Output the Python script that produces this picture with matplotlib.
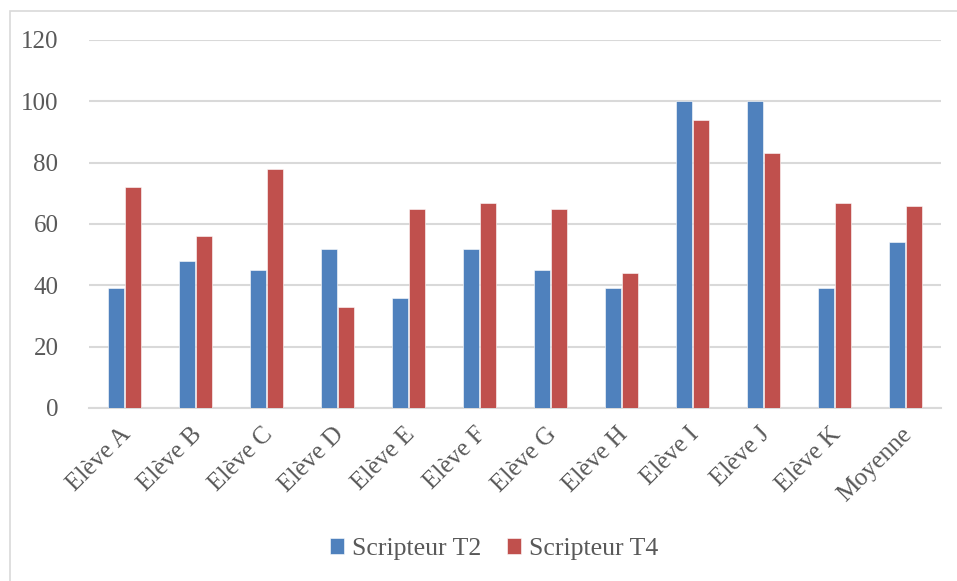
import matplotlib.pyplot as plt
from matplotlib.patches import Rectangle
from matplotlib.transforms import ScaledTranslation
import numpy as np

eleves = ['Elève A', 'Elève B', 'Elève C', 'Elève D', 'Elève E', 'Elève F',
          'Elève G', 'Elève H', 'Elève I', 'Elève J', 'Elève K', 'Moyenne']
t2 = [39, 48, 45, 52, 36, 52, 45, 39, 100, 100, 39, 54]
t4 = [72, 56, 78, 33, 65, 67, 65, 44, 94, 83, 67, 66]
yticks = [0, 20, 40, 60, 80, 100, 120]

plt.rcParams['font.family'] = ['Liberation Serif', 'DejaVu Serif']
grey_txt = '#595959'
grid_col = '#d9d9d9'

fig = plt.figure(figsize=(9.57, 5.81), dpi=100)
ax = fig.add_axes([89 / 957, 1 - 408 / 581, 852 / 957, 368 / 581])

# outer chart frame
fig.patches.append(Rectangle((10 / 957, -0.1), 1.2, 1 - 11 / 581 + 0.1,
                             transform=fig.transFigure, fill=False,
                             edgecolor=grid_col, linewidth=1.2, zorder=0))

x = np.arange(len(eleves))
w = 0.225
ax.bar(x - 0.12, t2, w, color='#4f81bd', edgecolor='white', linewidth=0.4,
       label='Scripteur T2', zorder=3)
ax.bar(x + 0.12, t4, w, color='#c0504d', edgecolor='white', linewidth=0.4,
       label='Scripteur T4', zorder=3)

ax.set_xlim(-0.5, len(eleves) - 0.5)
ax.set_ylim(0, 120)
ax.set_yticks(yticks)
ax.yaxis.grid(True, color=grid_col, linewidth=1.5, zorder=0)
ax.set_axisbelow(True)
for s in ['top', 'right', 'left']:
    ax.spines[s].set_visible(False)
ax.spines['bottom'].set_color(grid_col)
ax.spines['bottom'].set_linewidth(1.5)
ax.tick_params(length=0, colors=grey_txt, labelsize=18)
ax.tick_params(axis='y', pad=22)
ax.set_xticks(x)
ax.set_xticklabels(eleves, rotation=45, ha='right', rotation_mode='anchor')
ax.tick_params(axis='x', pad=11)
shift = ScaledTranslation(-5 / 100, 0, fig.dpi_scale_trans)
for lbl in ax.get_xticklabels():
    lbl.set_transform(lbl.get_transform() + shift)

fig.legend(loc='center', bbox_to_anchor=(494 / 957, 1 - 549 / 581), ncol=2,
           frameon=False, fontsize=18.5, labelcolor=grey_txt, handlelength=0.55,
           handleheight=0.55, handletextpad=0.3, columnspacing=1.0)

fig.savefig('out.png', dpi=100)
